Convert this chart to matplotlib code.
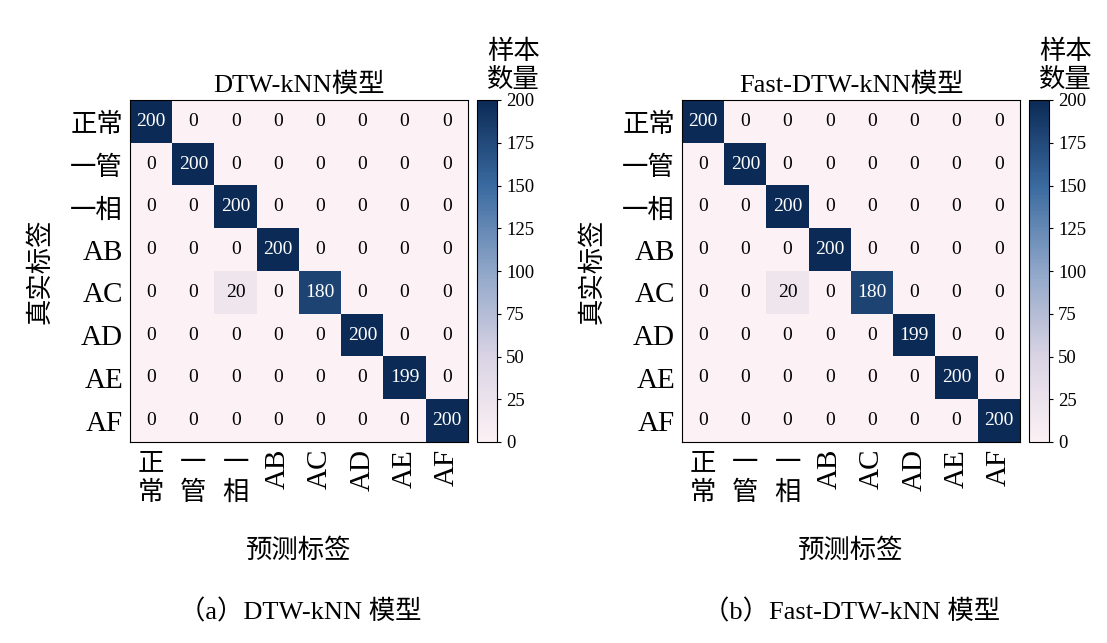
import numpy as np
import matplotlib
matplotlib.use("Agg")
import matplotlib.pyplot as plt
from matplotlib.colors import LinearSegmentedColormap

labels = ["正常", "一管", "一相", "AB", "AC", "AD", "AE", "AF"]
diag_a = [200, 200, 200, 200, 180, 200, 199, 200]
diag_b = [200, 200, 200, 200, 180, 199, 200, 200]
offdiag = [(4, 2, 20)]  # (row, col, value) for both models
titles = ["DTW-kNN模型", "Fast-DTW-kNN模型"]
captions = ["（a）DTW-kNN 模型", "（b）Fast-DTW-kNN 模型"]

cmap = LinearSegmentedColormap.from_list(
    "cm", ["#fcf1f4", "#d9d3e4", "#8fa6c8", "#3a6aa0", "#0b2a55"])
CJK = "Noto Sans CJK SC"
SERIF = "Liberation Serif"

W, H = 1107, 643
fig = plt.figure(figsize=(W / 100, H / 100), dpi=100)


def px(x0, y0, x1, y1):
    return [x0 / W, 1 - y1 / H, (x1 - x0) / W, (y1 - y0) / H]


def make(diag):
    m = np.zeros((8, 8))
    for i, v in enumerate(diag):
        m[i, i] = v
    for r, c, v in offdiag:
        m[r, c] = v
    return m


for k, (diag, x0) in enumerate([(diag_a, 130), (diag_b, 682)]):
    m = make(diag)
    ax = fig.add_axes(px(x0, 100, x0 + 338, 442))
    im = ax.imshow(m, cmap=cmap, vmin=0, vmax=200, aspect="auto")
    for i in range(8):
        for j in range(8):
            v = int(m[i, j])
            ax.text(j, i, str(v), ha="center", va="center", fontsize=14,
                    family=SERIF, color="white" if v > 100 else "black")
    ax.set_xticks(range(8))
    ax.set_yticks(range(8))
    xl = ["\n".join(s) if not s.isascii() else s for s in labels]
    ax.set_xticklabels(xl, fontsize=19, family=CJK, linespacing=1.15)
    for t, s in zip(ax.get_xticklabels(), labels):
        if s.isascii():
            t.set_rotation(90)
            t.set_family(SERIF)
            t.set_fontsize(21)
        t.set_va("top")
    ax.set_yticklabels(labels, fontsize=19, family=CJK)
    for t, s in zip(ax.get_yticklabels(), labels):
        if s.isascii():
            t.set_family(SERIF)
            t.set_fontsize(21)
    ax.tick_params(length=0, pad=5)
    for sp in ax.spines.values():
        sp.set_linewidth(0.8)
    ax.set_title(titles[k], fontsize=19, family=[SERIF, CJK], pad=6)
    ax.set_xlabel("预测标签", fontsize=19, family=CJK, labelpad=22)
    ax.set_ylabel("真实标签", fontsize=19, family=CJK, labelpad=12)

    cax = fig.add_axes(px(x0 + 347, 100, x0 + 367, 442))
    cb = fig.colorbar(im, cax=cax, ticks=range(0, 201, 25))
    cb.ax.tick_params(labelsize=13.5, length=3)
    for t in cb.ax.get_yticklabels():
        t.set_family(SERIF)
    cb.outline.set_linewidth(0.8)
    cax.text(0.5, 1.02, "样本\n数量", transform=cax.transAxes, ha="left",
             va="bottom", fontsize=19, family=CJK, linespacing=1.05)

    fig.text((x0 + 170) / W, 1 - 612 / H, captions[k], ha="center",
             va="center", fontsize=19, family=[SERIF, CJK])

fig.savefig("out.png", dpi=100, facecolor="white")
